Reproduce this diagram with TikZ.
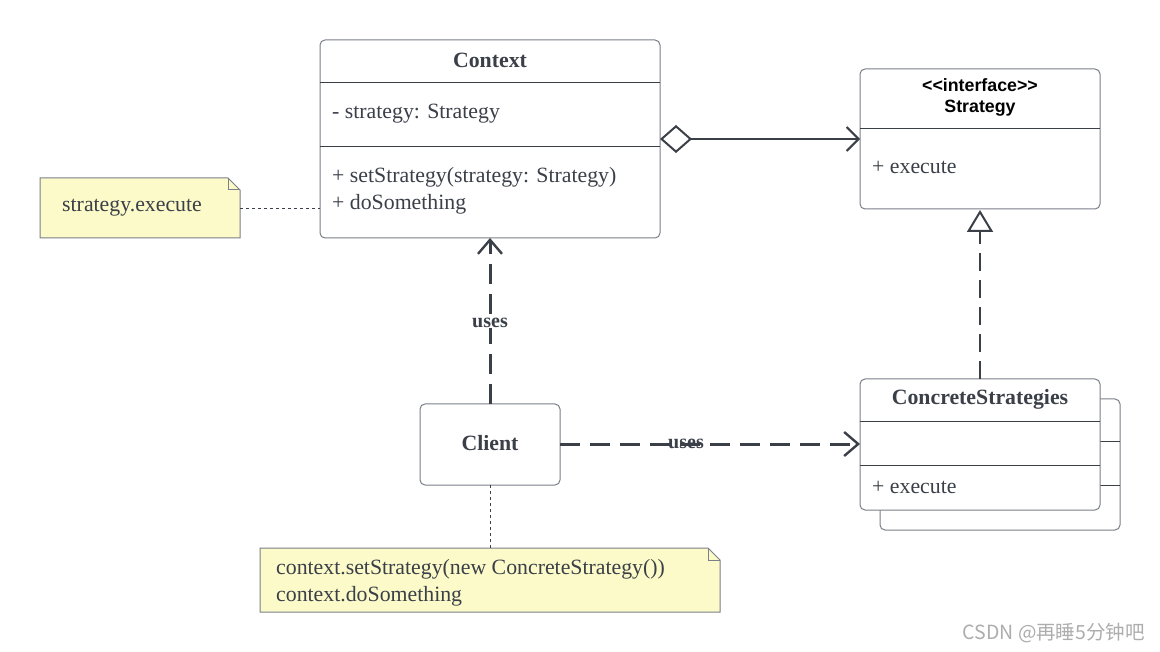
\documentclass[tikz,border=0pt]{standalone}
\usepackage{fontspec}
\setmainfont{Liberation Serif}
\newfontfamily\sansf{Liberation Sans}
\newfontfamily\cjk{Noto Sans CJK SC}
\usetikzlibrary{arrows.meta}
\definecolor{ink}{HTML}{3A3F48}
\definecolor{bord}{HTML}{7A7F88}
\definecolor{notefill}{HTML}{FBFAC8}
\tikzset{
  umlbox/.style={draw=bord, line width=1pt, rounded corners=5pt, fill=white, anchor=north west, inner sep=0pt, outer sep=0pt},
  sep/.style={draw=ink, line width=0.9pt},
  txt/.style={text=ink, font=\fontsize{21.8}{26}\selectfont, inner sep=0pt, anchor=west},
  btxt/.style={text=ink, font=\fontsize{21.8}{26}\selectfont\bfseries, inner sep=0pt},
  stxt/.style={text=black, font=\sansf\fontsize{17.8}{21}\selectfont\bfseries, inner sep=0pt, align=center},
  notebox/.style={inner sep=0pt, anchor=north west, outer sep=0pt},
  noteline/.style={draw=bord, line width=1pt, fill=notefill},
  dotline/.style={draw=ink, line width=0.8pt, dash pattern=on 3pt off 3pt},
  usesline/.style={draw=ink, line width=3pt, dash pattern=on 20pt off 10pt, -{Straight Barb[length=14pt, width=24pt, line width=2.4pt]}},
  lbl/.style={text=ink, font=\fontsize{20}{22}\selectfont\bfseries, fill=white, inner sep=1pt},
}
\begin{document}
\begin{tikzpicture}[x=1pt,y=-1pt]
\useasboundingbox[fill=white] (0,0) rectangle (1160,652);

% Context
\node[umlbox, minimum width=340, minimum height=198] (ctx) at (320,40) {};
\draw[sep] (320,82) -- (660,82);
\draw[sep] (320,146) -- (660,146);
\node[btxt] (ctxname) at (490,60) {Context};
\node[txt] (ctxattr) at (332,114) {- strategy: Strategy};
\node[txt] (ctxm1) at (332,177) {+ setStrategy(strategy: Strategy)};
\node[txt] (ctxm2) at (332,204) {+ doSomething};

% Strategy
\node[umlbox, minimum width=240, minimum height=140] (str) at (860,69) {};
\draw[sep] (860,128) -- (1100,128);
\node[stxt] (strname) at (980,97) {<<interface>>\\Strategy};
\node[txt] (strm) at (872,167) {+ execute};

% ConcreteStrategies (stacked)
\node[umlbox, minimum width=240, minimum height=131] (csback) at (880,399) {};
\draw[sep] (1100,441) -- (1120,441);
\draw[sep] (1100,485) -- (1120,485);
\node[umlbox, minimum width=240, minimum height=131] (cs) at (860,379) {};
\draw[sep] (860,421) -- (1100,421);
\draw[sep] (860,465) -- (1100,465);
\node[btxt] (csname) at (980,399) {ConcreteStrategies};
\node[txt] (csm) at (872,487) {+ execute};

% Client
\node[umlbox, minimum width=140, minimum height=81] (cl) at (420,404) {};
\node[btxt] (clname) at (490,443) {Client};

% Notes
\node[notebox, minimum width=200, minimum height=60] (n1) at (40,178) {};
\draw[noteline] (n1.south west) -- (n1.north west) -- ([xshift=-12]n1.north east) -- ([yshift=-12]n1.north east) -- (n1.south east) -- cycle;
\draw[draw=bord, line width=1pt] ([xshift=-12]n1.north east) -- ([xshift=-12,yshift=-12]n1.north east) -- ([yshift=-12]n1.north east);
\node[txt] (n1t) at (62,208) {strategy.execute};

\node[notebox, minimum width=460, minimum height=64] (n2) at (260,548) {};
\draw[noteline] (n2.south west) -- (n2.north west) -- ([xshift=-12]n2.north east) -- ([yshift=-12]n2.north east) -- (n2.south east) -- cycle;
\draw[draw=bord, line width=1pt] ([xshift=-12]n2.north east) -- ([xshift=-12,yshift=-12]n2.north east) -- ([yshift=-12]n2.north east);
\node[txt] (n2a) at (276,569) {context.setStrategy(new ConcreteStrategy())};
\node[txt] (n2b) at (276,596) {context.doSomething};

% Connectors
\coordinate (aggs) at (660,139);
\coordinate (agge) at (860,139);
\draw[draw=ink, line width=2pt, {Diamond[open, length=32pt, width=28pt, line width=2pt]}-{Straight Barb[length=12pt, width=24pt, line width=2pt]}] (aggs) -- (agge);

\coordinate (reals) at (980,379);
\coordinate (reale) at (980,210);
\draw[draw=ink, line width=2pt, dash pattern=on 18pt off 9pt, -{Triangle[open, length=22pt, width=26pt, line width=2pt]}] (reals) -- (reale);

\draw[usesline] (cl.north) -- (cl.north |- ctx.south) node[pos=0.49, lbl] (u1) {uses};
\draw[usesline] (cl.east |- 0,444) -- (cs.west |- 0,444) node[pos=0.42, lbl, fill=none] (u2) {uses};

\draw[dotline] (n1.east |- 0,208) -- (ctx.west |- 0,208);
\draw[dotline] (cl.south) -- (cl.south |- n2.north);

% watermark
\node[text=black!32, font=\cjk\fontsize{19.5}{21}\selectfont, anchor=east, inner sep=0pt] (wm) at (1145,633) {CSDN @再睡5分钟吧};
\end{tikzpicture}
\end{document}
